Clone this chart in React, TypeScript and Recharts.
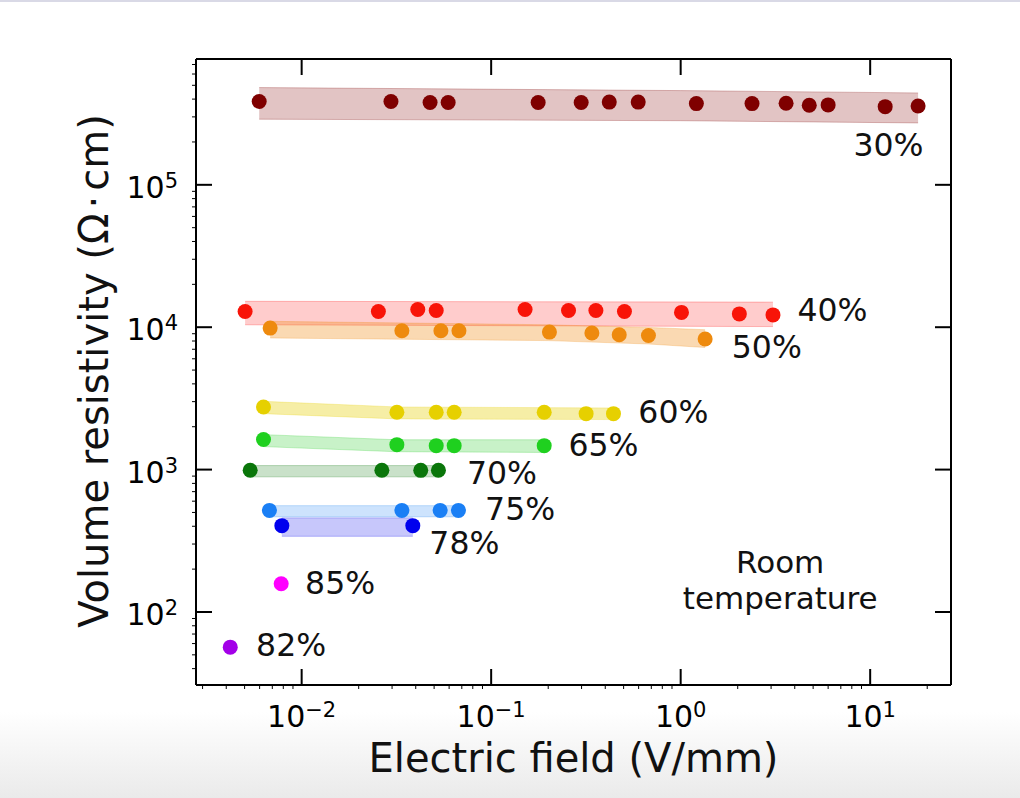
import React from 'react';
import { Area, ComposedChart, Scatter, XAxis, YAxis } from 'recharts';

const FONT = '"DejaVu Sans", Verdana, sans-serif';

// electric field (V/mm) and volume resistivity (Ω·cm) per humidity level
const field30 = [0.00597, 0.0296, 0.0476, 0.0593, 0.177, 0.2985, 0.42, 0.597, 1.21, 2.38, 3.6, 4.77, 6.0, 12.0, 17.9];
const rho30 = [385000, 385000, 379000, 379000, 379000, 379000, 381000, 381000, 372000, 372000, 374000, 362000, 364000, 354000, 358000];

const field40 = [0.00503, 0.0254, 0.041, 0.0513, 0.151, 0.256, 0.357, 0.505, 1.01, 2.04, 3.07];
const rho40 = [12900, 12900, 13300, 13100, 13300, 13100, 13100, 12900, 12700, 12400, 12200];

const field50 = [0.00682, 0.0338, 0.0543, 0.0676, 0.203, 0.34, 0.474, 0.676, 1.346];
const rho50 = [9860, 9440, 9440, 9440, 9240, 9100, 8850, 8750, 8260];

const field60 = [0.00629, 0.0318, 0.0513, 0.0638, 0.1905, 0.317, 0.442];
const rho60 = [2750, 2525, 2525, 2525, 2525, 2470, 2470];

const field65 = [0.00629, 0.0318, 0.0513, 0.0638, 0.1905];
const rho65 = [1626, 1497, 1473, 1473, 1473];

const field70 = [0.00535, 0.0265, 0.0425, 0.0527];
const rho70 = [990, 990, 988, 990];

const field75 = [0.00676, 0.0338, 0.0538, 0.0672];
const rho75 = [517, 517, 517, 517];

const field78 = [0.00786, 0.0386];
const rho78 = [404, 404];

const field85 = [0.0078];
const rho85 = [158];

const field82 = [0.0042];
const rho82 = [56.6];

// shaded bands (field, low, high)
const bandField30 = [0.00597, 1.0, 17.9];
const bandLow30 = [289000, 282000, 272000];
const bandHigh30 = [482000, 459000, 442000];

const bandField40 = [0.00503, 3.07];
const bandLow40 = [10400, 10100];
const bandHigh40 = [15200, 15000];

const bandField50 = [0.00682, 0.2, 0.676, 1.346];
const bandLow50 = [8400, 8050, 7620, 7200];
const bandHigh50 = [11000, 10400, 9970, 9600];

const bandField60 = [0.00629, 0.0318, 0.442];
const bandLow60 = [2470, 2270, 2245];
const bandHigh60 = [3015, 2754, 2710];

const bandField65 = [0.00629, 0.0318, 0.1905];
const bandLow65 = [1450, 1335, 1320];
const bandHigh65 = [1760, 1620, 1620];

const bandField70 = [0.00535, 0.0527];
const bandLow70 = [889, 889];
const bandHigh70 = [1067, 1067];

const bandField75 = [0.00676, 0.0672];
const bandLow75 = [466, 466];
const bandHigh75 = [558, 558];

const bandField78 = [0.00786, 0.0386];
const bandLow78 = [340, 340];
const bandHigh78 = [458, 458];

// series labels (left edge / baseline in data units)
const labelText = ['30%', '40%', '50%', '60%', '65%', '70%', '75%', '78%', '85%', '82%'];
const labelField = [8.16, 4.13, 1.862, 0.598, 0.256, 0.0745, 0.0929, 0.0472, 0.01043, 0.00575];
const labelRho = [159800, 10980, 6085, 2128, 1239, 798, 441, 256, 132.8, 49.0];

const noteText = ['Room', 'temperature'];
const noteField = [3.35, 3.35];
const noteRho = [188, 105];

const xMajor = [0.01, 0.1, 1, 10];
const yMajor = [100, 1000, 10000, 100000];
const xDomain = [0.00277, 26.7];
const yDomain = [30.7, 765000];

function logTicks(lo: number, hi: number) {
  const out: number[] = [];
  for (let e = Math.floor(Math.log10(lo)); e <= Math.ceil(Math.log10(hi)); e++) {
    for (let m = 1; m < 10; m++) {
      const v = m * Math.pow(10, e);
      if (v >= lo && v <= hi) out.push(v);
    }
  }
  return out;
}

const xTicks = logTicks(xDomain[0], xDomain[1]);
const yTicks = logTicks(yDomain[0], yDomain[1]);

const zipPts = (f: number[], r: number[]) => f.map((E, i) => ({ E, R: r[i] }));
const zipBand = (f: number[], lo: number[], hi: number[]) =>
  f.map((E, i) => ({ E, range: [lo[i], hi[i]] }));

const groups = [
  { key: '30', color: '#7f0000', band: '#800000', alpha: 0.23, pts: zipPts(field30, rho30), bnd: zipBand(bandField30, bandLow30, bandHigh30) },
  { key: '40', color: '#f81408', band: '#ff0000', alpha: 0.2, pts: zipPts(field40, rho40), bnd: zipBand(bandField40, bandLow40, bandHigh40) },
  { key: '50', color: '#ee8a0e', band: '#f08c14', alpha: 0.33, pts: zipPts(field50, rho50), bnd: zipBand(bandField50, bandLow50, bandHigh50) },
  { key: '60', color: '#e6d000', band: '#e6cf00', alpha: 0.35, pts: zipPts(field60, rho60), bnd: zipBand(bandField60, bandLow60, bandHigh60) },
  { key: '65', color: '#1fd01f', band: '#22cc22', alpha: 0.25, pts: zipPts(field65, rho65), bnd: zipBand(bandField65, bandLow65, bandHigh65) },
  { key: '70', color: '#0a760a', band: '#0a760a', alpha: 0.22, pts: zipPts(field70, rho70), bnd: zipBand(bandField70, bandLow70, bandHigh70) },
  { key: '75', color: '#1a7ff5', band: '#1a7ff5', alpha: 0.22, pts: zipPts(field75, rho75), bnd: zipBand(bandField75, bandLow75, bandHigh75) },
  { key: '78', color: '#0000ee', band: '#0000ee', alpha: 0.22, pts: zipPts(field78, rho78), bnd: zipBand(bandField78, bandLow78, bandHigh78) },
  { key: '85', color: '#ff00ff', band: null, alpha: 0, pts: zipPts(field85, rho85), bnd: [] },
  { key: '82', color: '#a300e8', band: null, alpha: 0, pts: zipPts(field82, rho82), bnd: [] },
];

const labelData = labelText.map((text, i) => ({ E: labelField[i], R: labelRho[i], text }));
const noteData = noteText.map((text, i) => ({ E: noteField[i], R: noteRho[i], text }));

const isMajor = (v: number) => Math.abs(Math.log10(v) - Math.round(Math.log10(v))) < 1e-6;

function expLabel(v: number) {
  const e = Math.round(Math.log10(v));
  return e < 0 ? `\u2212${-e}` : String(e);
}

function BottomTick(props: any) {
  const { x, y, payload } = props;
  const v = payload.value;
  if (!isMajor(v)) return <line x1={x} y1={y} x2={x} y2={y + 4} stroke='#000' strokeWidth={1} />;
  return (
    <g>
      <line x1={x} y1={y} x2={x} y2={y - 16} stroke='#000' strokeWidth={2} />
      <text x={x} y={y + 42} textAnchor='middle' fontFamily={FONT} fontSize={30} fill='#000'>
        <tspan>10</tspan>
        <tspan dy={-10} fontSize={21}>{expLabel(v)}</tspan>
      </text>
    </g>
  );
}

function LeftTick(props: any) {
  const { x, y, payload } = props;
  const v = payload.value;
  if (!isMajor(v)) return <line x1={x} y1={y} x2={x - 4} y2={y} stroke='#000' strokeWidth={1} />;
  return (
    <g>
      <line x1={x} y1={y} x2={x + 16} y2={y} stroke='#000' strokeWidth={2} />
      <text x={x - 18} y={y + 13} textAnchor='end' fontFamily={FONT} fontSize={30} fill='#000'>
        <tspan>10</tspan>
        <tspan dy={-10} fontSize={21}>{expLabel(v)}</tspan>
      </text>
    </g>
  );
}

function TopTick(props: any) {
  const { x, y } = props;
  return <line x1={x} y1={y} x2={x} y2={y + 16} stroke='#000' strokeWidth={2} />;
}

function RightTick(props: any) {
  const { x, y } = props;
  return <line x1={x} y1={y} x2={x - 16} y2={y} stroke='#000' strokeWidth={2} />;
}

const axisLine = { stroke: '#000', strokeWidth: 2 };

export default function App() {
  return (
    <div
      style={{
        position: 'absolute',
        left: 0,
        top: 0,
        width: 1020,
        height: 798,
        background:
          'linear-gradient(#d9d9e6 0px, #d9d9e6 2px, #fff 2px, #fff 712px, #eaeaea 798px)',
      }}
    >
      <ComposedChart
        width={1020}
        height={798}
        margin={{ top: 49, right: 59, bottom: 53, left: 96 }}
        style={{ position: 'absolute', left: 0, top: 0 }}
      >
        <XAxis
          dataKey='E'
          type='number'
          scale='log'
          domain={xDomain}
          allowDataOverflow
          ticks={xTicks}
          interval={0}
          tickSize={0}
          tickMargin={0}
          tickLine={false}
          axisLine={axisLine}
          tick={<BottomTick />}
          height={60}
        />
        <XAxis
          xAxisId='top'
          orientation='top'
          dataKey='E'
          type='number'
          scale='log'
          domain={xDomain}
          allowDataOverflow
          ticks={xMajor}
          interval={0}
          tickSize={0}
          tickMargin={0}
          tickLine={false}
          axisLine={axisLine}
          tick={<TopTick />}
          height={10}
        />
        <YAxis
          dataKey='R'
          type='number'
          scale='log'
          domain={yDomain}
          allowDataOverflow
          ticks={yTicks}
          interval={0}
          tickSize={0}
          tickMargin={0}
          tickLine={false}
          axisLine={axisLine}
          tick={<LeftTick />}
          width={100}
        />
        <YAxis
          yAxisId='right'
          orientation='right'
          dataKey='R'
          type='number'
          scale='log'
          domain={yDomain}
          allowDataOverflow
          ticks={yMajor}
          interval={0}
          tickSize={0}
          tickMargin={0}
          tickLine={false}
          axisLine={axisLine}
          tick={<RightTick />}
          width={10}
        />
        {groups
          .filter((g) => g.band)
          .map((g) => (
            <Area
              key={`band-${g.key}`}
              data={g.bnd}
              dataKey='range'
              type='linear'
              fill={g.band as string}
              fillOpacity={g.alpha}
              stroke={g.band as string}
              strokeOpacity={0.25}
              strokeWidth={1}
              dot={false}
              activeDot={false}
              isAnimationActive={false}
            />
          ))}
        {groups.map((g) => (
          <Scatter
            key={`pts-${g.key}`}
            data={g.pts}
            fill={g.color}
            isAnimationActive={false}
            shape={(p: any) => <circle cx={p.cx} cy={p.cy} r={7.5} fill={g.color} />}
          />
        ))}
        <Scatter
          data={labelData}
          isAnimationActive={false}
          shape={(p: any) => (
            <text x={p.cx} y={p.cy} fontFamily={FONT} fontSize={31.5} fill='#111'>
              {p.payload.text}
            </text>
          )}
        />
        <Scatter
          data={noteData}
          isAnimationActive={false}
          shape={(p: any) => (
            <text x={p.cx} y={p.cy} textAnchor='middle' fontFamily={FONT} fontSize={31} fill='#111'>
              {p.payload.text}
            </text>
          )}
        />
      </ComposedChart>
      <svg
        width={1020}
        height={798}
        style={{ position: 'absolute', left: 0, top: 0, pointerEvents: 'none' }}
      >
        <text x={573.5} y={772} textAnchor='middle' fontFamily={FONT} fontSize={40} fill='#111'>
          Electric field (V/mm)
        </text>
        <text
          transform='translate(108 371) rotate(-90)'
          textAnchor='middle'
          fontFamily={FONT}
          fontSize={40}
          fill='#111'
        >
          <tspan>Volume resistivity (Ω</tspan>
          <tspan dx={5}>·</tspan>
          <tspan dx={5}>cm)</tspan>
        </text>
      </svg>
    </div>
  );
}
